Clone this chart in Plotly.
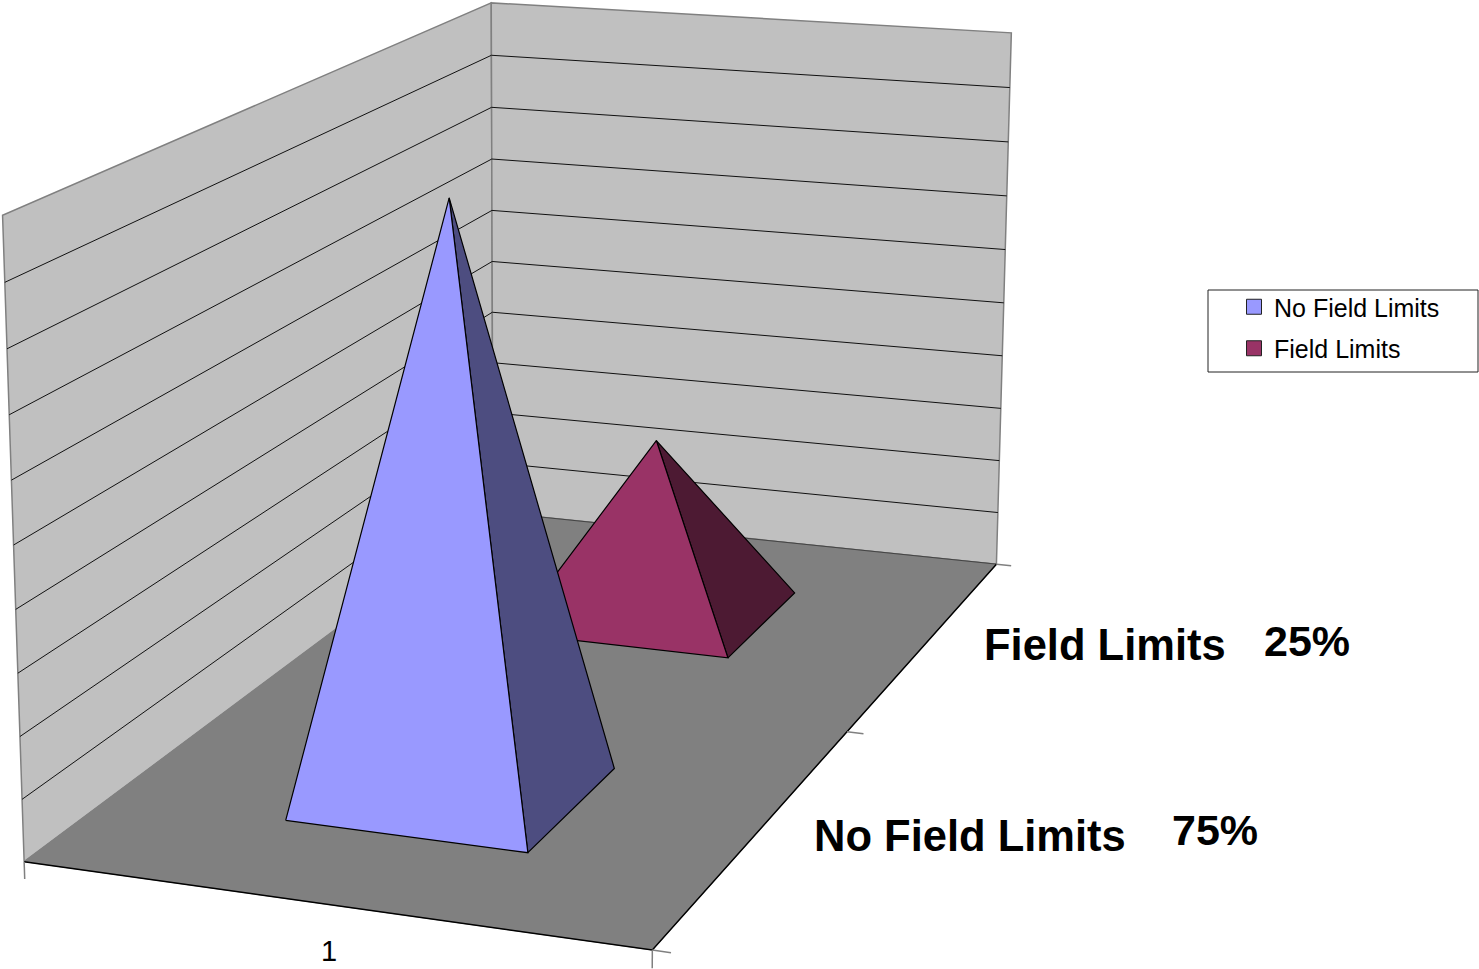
import numpy as np
import plotly.graph_objects as go

# ---- data ----
series_names = ["No Field Limits", "Field Limits"]
series_values = [75, 25]
value_ticks = [0, 7.8, 15.6, 23.4, 31.2, 39, 46.8, 54.6, 62.4, 70.2, 78]
category_label = "1"
face_colors = ["#9999FF", "#993366"]
side_colors = ["#4D4D80", "#4D1A33"]

WIDTH, HEIGHT = 1479, 969
VMAX = value_ticks[-1]

# ---- camera: pinhole matrix calibrated from the box corners ----
model_pts = [(0, 0, 0), (1, 0, 0), (1, 1, 0), (0, 1, 0), (0, 0, 1), (0, 1, 1), (1, 1, 1)]
image_pts = [(25, 862), (652, 950), (997, 564), (492, 512), (2, 215), (492, 3), (1011, 33)]
rows, rhs = [], []
for (X, Y, Z), (u, v) in zip(model_pts, image_pts):
    rows.append([X, Y, Z, 1, 0, 0, 0, 0, -u * X, -u * Y, -u * Z]); rhs.append(u)
    rows.append([0, 0, 0, 0, X, Y, Z, 1, -v * X, -v * Y, -v * Z]); rhs.append(v)
CAM = np.append(np.linalg.lstsq(np.array(rows, float), np.array(rhs, float), rcond=None)[0], 1).reshape(3, 4)


def project(points):
    """Model (category, depth, value) -> drawing-plane x, y."""
    xs, ys = [], []
    for cat, depth, value in points:
        h = CAM @ np.array([cat, depth, value / VMAX, 1.0])
        xs.append(h[0] / h[2]); ys.append(h[1] / h[2])
    return xs, ys


fig = go.Figure()


def poly(points, fill, line="black", width=1.2):
    x, y = project(points + points[:1])
    fig.add_trace(go.Scatter(x=x, y=y, mode="lines", fill="toself", fillcolor=fill,
                             line=dict(color=line, width=width), showlegend=False, hoverinfo="skip"))


def seg(points, color="black", width=1.0):
    x, y = project(points)
    fig.add_trace(go.Scatter(x=x, y=y, mode="lines", line=dict(color=color, width=width),
                             showlegend=False, hoverinfo="skip", cliponaxis=False))


WALL, FLOOR, EDGE = "#C0C0C0", "#808080", "#808080"
poly([(0, 0, 0), (0, 1, 0), (0, 1, VMAX), (0, 0, VMAX)], WALL, EDGE, 1.5)
poly([(0, 1, 0), (1, 1, 0), (1, 1, VMAX), (0, 1, VMAX)], WALL, EDGE, 1.5)
poly([(0, 0, 0), (1, 0, 0), (1, 1, 0), (0, 1, 0)], FLOOR, EDGE, 1.0)
for t in value_ticks[1:-1]:
    seg([(0, 0, t), (0, 1, t), (1, 1, t)], "#111111", 1.0)
seg([(0, 1, 0), (1, 1, 0)], "#444444", 1.0)
seg([(0, 0, 0), (1, 0, 0), (1, 1, 0)], "black", 1.5)

# axis tick marks
TICK_V = -VMAX * 0.028
TICK_C = 0.028
seg([(0, 0, 0), (0, 0, TICK_V)], EDGE, 1.5)
seg([(1, 0, 0), (1, 0, TICK_V)], EDGE, 1.5)
for d in (0, 0.5, 1):
    seg([(1, d, 0), (1 + TICK_C, d, 0)], EDGE, 1.5)

# pyramids, far one first
X0, X1 = 0.3, 0.7
SLOT = 1 / len(series_values)
BAR = 0.4 * SLOT
for i in reversed(range(len(series_values))):
    mid = SLOT * (i + 0.5)
    d0, d1 = mid - BAR / 2, mid + BAR / 2
    apex = ((X0 + X1) / 2, mid, series_values[i])
    poly([(X1, d0, 0), (X1, d1, 0), apex], side_colors[i], "#000000", 1.2)
    poly([(X0, d0, 0), (X1, d0, 0), apex], face_colors[i], "#000000", 1.2)

# legend entries
for name, c in zip(series_names, face_colors):
    fig.add_trace(go.Scatter(x=[None], y=[None], mode="markers", name=name, legendgroup=name,
                             marker=dict(symbol="square", size=15, color=c, line=dict(color="#222222", width=1))))

FONT = "Liberation Sans"
texts = [("Field Limits", 982, 645, 43.5, True), ("25%", 1262, 641, 43, True),
         ("No Field Limits", 812, 836, 43.5, True), ("75%", 1170, 830, 43, True),
         (category_label, 329, 951, 29, False)]
for s, x, y, size, bold in texts:
    fig.add_annotation(x=x, y=y, xref="x", yref="y", text=f"<b>{s}</b>" if bold else s, showarrow=False,
                       xanchor="left" if bold else "center", yanchor="middle",
                       font=dict(family=FONT, size=size, color="black"))

# legend frame
fig.add_shape(type="rect", xref="x", yref="y", x0=1208, x1=1478, y0=290, y1=372,
              line=dict(color="#222222", width=1), fillcolor="white", layer="below")

fig.update_layout(
    width=WIDTH, height=HEIGHT, margin=dict(l=0, r=0, t=0, b=0),
    paper_bgcolor="white", plot_bgcolor="white",
    xaxis=dict(range=[0, WIDTH], visible=False, fixedrange=True),
    yaxis=dict(range=[HEIGHT, 0], visible=False, fixedrange=True),
    legend=dict(x=1234 / WIDTH, y=1 - 284 / HEIGHT, xanchor="left", yanchor="top",
                borderwidth=0, bgcolor="rgba(0,0,0,0)",
                font=dict(family=FONT, size=25, color="black"),
                itemsizing="trace", itemwidth=30, tracegroupgap=6,
                entrywidth=190, entrywidthmode="pixels"),
)
fig.write_html("out.html", config={"displayModeBar": False},
               post_script="document.body.style.margin='0';document.body.style.overflow='hidden';")
